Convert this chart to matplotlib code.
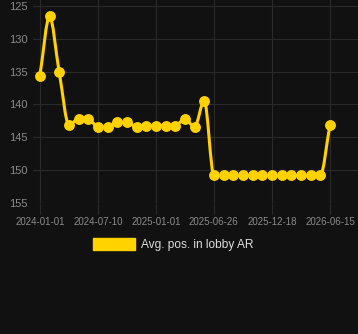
import matplotlib
matplotlib.use("Agg")
import matplotlib.pyplot as plt
import matplotlib.patches as mpatches
from matplotlib.path import Path
import numpy as np

# Données
positions = [135.6, 126.6, 135.1, 143.1, 142.2, 142.2, 143.4, 143.4, 142.7,
             142.7, 143.4, 143.2, 143.2, 143.2, 143.2, 142.2, 143.4, 139.4,
             150.8, 150.8, 150.8, 150.8, 150.8, 150.8, 150.8, 150.8, 150.8,
             150.8, 150.8, 150.8, 143.1]
tick_labels = ["2024-01-01", "2024-07-10", "2025-01-01", "2025-06-26",
               "2025-12-18", "2026-06-15"]
tick_index = [0, 6, 12, 18, 24, 30]
y_ticks = [125, 130, 135, 140, 145, 150, 155]
series_label = "Avg. pos. in lobby AR"

BG = "#111111"
GRID = "#2a2a2a"
TXT = "#8a8a8a"
YELLOW = "#FFD200"


def monotone_path(x, y):
    """Courbe monotone (Fritsch-Carlson) sous forme de Bezier cubiques."""
    x = np.asarray(x, float)
    y = np.asarray(y, float)
    n = len(x)
    dx = np.diff(x)
    d = np.diff(y) / dx
    m = np.zeros(n)
    m[0], m[-1] = d[0], d[-1]
    for i in range(1, n - 1):
        if d[i - 1] * d[i] <= 0:
            m[i] = 0.0
        else:
            m[i] = (d[i - 1] + d[i]) / 2
    for i in range(n - 1):
        if d[i] == 0:
            m[i] = m[i + 1] = 0.0
            continue
        a, b = m[i] / d[i], m[i + 1] / d[i]
        s = a * a + b * b
        if s > 9:
            t = 3 / np.sqrt(s)
            m[i], m[i + 1] = t * a * d[i], t * b * d[i]
    verts = [(x[0], y[0])]
    codes = [Path.MOVETO]
    for i in range(n - 1):
        h = dx[i] / 3
        verts += [(x[i] + h, y[i] + m[i] * h),
                  (x[i + 1] - h, y[i + 1] - m[i + 1] * h),
                  (x[i + 1], y[i + 1])]
        codes += [Path.CURVE4] * 3
    return Path(verts, codes)


xs = np.arange(len(positions))

fig = plt.figure(figsize=(3.58, 3.34), dpi=100, facecolor=BG)
ax = fig.add_axes([0.092, 0.392, 0.908, 0.608])
ax.set_facecolor(BG)

ax.add_patch(mpatches.PathPatch(monotone_path(xs, positions), facecolor="none",
                                edgecolor=YELLOW, lw=2.2, zorder=3))
ax.plot(xs, positions, "o", color=YELLOW, markersize=6.8, zorder=4)

ax.set_xlim(-0.72, 32.9)
ax.set_ylim(155, 124.1)
ax.set_xticks(tick_index)
ax.set_xticklabels(tick_labels)
ax.set_yticks(y_ticks)

ax.grid(True, color=GRID, lw=0.8)
ax.tick_params(axis="x", colors=GRID, labelcolor=TXT, labelsize=7,
               length=8, pad=2)
ax.tick_params(axis="y", length=0, labelcolor=TXT, labelsize=8, pad=4)
for lab in ax.get_xticklabels() + ax.get_yticklabels():
    lab.set_family("Liberation Sans")
for s in ax.spines.values():
    s.set_visible(False)

handle = mpatches.Patch(color=YELLOW, label=series_label)
leg = fig.legend(handles=[handle], loc="center", bbox_to_anchor=(0.485, 0.267),
                 frameon=False, handlelength=3.5, handleheight=1.1,
                 handletextpad=0.5,
                 prop={"family": "Liberation Sans", "size": 8.6})
for t in leg.get_texts():
    t.set_color("#dddddd")

fig.savefig("out.png", dpi=100, facecolor=BG)
plt.close(fig)
